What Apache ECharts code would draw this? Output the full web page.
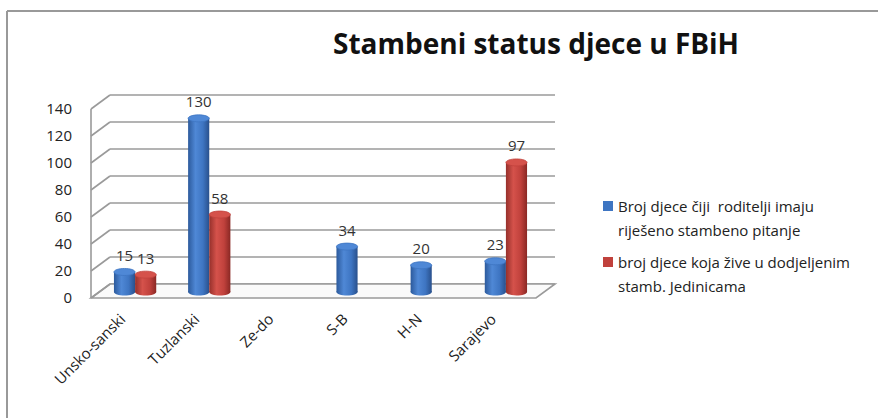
<!DOCTYPE html>
<html>
<head>
<meta charset="utf-8">
<script src="https://cdn.jsdelivr.net/npm/echarts@6/dist/echarts.min.js"></script>
<style>
html,body{margin:0;padding:0;background:#fff;}
#c{width:878px;height:418px;}
</style>
</head>
<body>
<div id="c"></div>
<script>
// ---- data ----
const titleText = 'Stambeni status djece u FBiH';
const categories = ['Unsko-sanski', 'Tuzlanski', 'Ze-do', 'S-B', 'H-N', 'Sarajevo'];
const seriesNames = ['Broj djece čiji  roditelji imaju\nriješeno stambeno pitanje',
                     'broj djece koja žive u dodjeljenim\nstamb. Jedinicama'];
const blueValues = [15, 130, null, 34, 20, 23];
const redValues = [13, 58, null, null, null, 97];
const yMin = 0, yMax = 140, yInterval = 20;
const yTicks = [0, 20, 40, 60, 80, 100, 120, 140];

// ---- styles ----
const FONT = '"Open Sans", Lato, sans-serif';
const DX = 19, DY = 14;
const blueGrad = ['#2c5a9c', '#4f88d6', '#3e75c2', '#29508c'];
const redGrad = ['#96302b', '#d5524b', '#c0413c', '#8a2824'];

function grad(c) {
  return new echarts.graphic.LinearGradient(0, 0, 1, 0, [
    {offset: 0, color: c[0]}, {offset: 0.35, color: c[1]},
    {offset: 0.7, color: c[2]}, {offset: 1, color: c[3]}
  ]);
}

function cylinder(sign, c) {
  return function (params, api) {
    const v = api.value(1);
    if (v == null || isNaN(v)) return;
    const base = api.coord([api.value(0), 0]);
    const top = api.coord([api.value(0), v]);
    const band = api.size([1, 0])[0];
    const w = band * 0.285;
    const cx = base[0] + sign * w / 2;
    const ry = 3.5;
    return {
      type: 'group',
      children: [
        {type: 'ellipse', shape: {cx: cx, cy: base[1], rx: w / 2, ry: ry}, style: {fill: grad(c)}},
        {type: 'rect', shape: {x: cx - w / 2, y: top[1], width: w, height: base[1] - top[1]}, style: {fill: grad(c)}},
        {type: 'ellipse', shape: {cx: cx, cy: top[1], rx: w / 2, ry: ry}, style: {fill: c[1], stroke: c[2], lineWidth: 0.8}},
        {type: 'text', style: {text: String(v), x: cx, y: top[1] - 17, align: 'center', verticalAlign: 'middle',
          fill: '#333', fontSize: 15, fontFamily: FONT}}
      ]
    };
  };
}

const wallData = yTicks.map(function (t) { return [0, t]; });

const option = {
  backgroundColor: '#fff',
  animation: false,
  title: {
    text: titleText, left: 531, top: 24, textAlign: 'center',
    textStyle: {fontFamily: FONT, fontSize: 28, fontWeight: 'bold', color: '#111'}
  },
  legend: {
    orient: 'vertical', left: 598, top: 189, itemGap: 8,
    itemWidth: 10, itemHeight: 48,
    icon: 'path://M0,7h10v10h-10zM0,0M0,48',
    textStyle: {fontFamily: FONT, fontSize: 15, color: '#222', lineHeight: 24},
    data: seriesNames
  },
  graphic: [
    {type: 'line', shape: {x1: 7, y1: 11, x2: 878, y2: 11}, style: {stroke: '#999', lineWidth: 2}},
    {type: 'line', shape: {x1: 7, y1: 11, x2: 7, y2: 418}, style: {stroke: '#999', lineWidth: 2}}
  ],
  grid: [
    {left: 110, right: 323, top: 95, bottom: 134},
    {left: 98, right: 335, top: 105, bottom: 126},
    {left: 85, right: 348, top: 105, bottom: 126}
  ],
  xAxis: [
    {gridIndex: 0, type: 'value', min: 0, max: 1, show: false},
    {gridIndex: 1, type: 'category', data: categories, show: false},
    {gridIndex: 2, type: 'category', data: categories,
      axisLine: {show: false}, axisTick: {show: false},
      axisLabel: {rotate: 45, margin: 24, fontFamily: FONT, fontSize: 15, color: '#222', interval: 0}}
  ],
  yAxis: [
    {gridIndex: 0, type: 'value', min: yMin, max: yMax, interval: yInterval,
      axisLine: {show: false}, axisTick: {show: false},
      splitLine: {show: true, lineStyle: {color: '#9a9a9a', width: 1.6}},
      axisLabel: {margin: 38, verticalAlign: 'top', lineHeight: 25, showMinLabel: true, showMaxLabel: true,
        hideOverlap: false, fontFamily: FONT, fontSize: 15, color: '#222'}},
    {gridIndex: 1, type: 'value', min: yMin, max: yMax, interval: yInterval, show: false, splitLine: {show: false}},
    {gridIndex: 2, type: 'value', min: yMin, max: yMax, interval: yInterval, show: false, splitLine: {show: false}}
  ],
  series: [
    {
      name: 'wall', type: 'custom', xAxisIndex: 0, yAxisIndex: 0, silent: true, z: 1,
      data: wallData,
      renderItem: function (params, api) {
        const v = api.value(1);
        const p = api.coord([0, v]);
        const children = [
          {type: 'line', shape: {x1: p[0], y1: p[1], x2: p[0] - DX, y2: p[1] + DY}, style: {stroke: '#9a9a9a', lineWidth: 1.6}}
        ];
        if (v === yMin) {
          const r = api.coord([1, yMin]);
          const t = api.coord([0, yMax]);
          children.unshift({type: 'polygon', shape: {points: [
            [p[0], p[1]], [r[0], r[1]], [r[0] - DX, r[1] + DY], [p[0] - DX, p[1] + DY]
          ]}, style: {fill: '#fafafa', stroke: '#9a9a9a', lineWidth: 1.6}});
          children.push({type: 'line', shape: {x1: p[0] - DX, y1: p[1] + DY, x2: t[0] - DX, y2: t[1] + DY},
            style: {stroke: '#9a9a9a', lineWidth: 1.6}});
        }
        return {type: 'group', children: children};
      }
    },
    {
      name: seriesNames[0], type: 'custom', xAxisIndex: 1, yAxisIndex: 1, z: 3,
      itemStyle: {color: '#3e75c2'},
      data: blueValues.map(function (v, i) { return [i, v]; }),
      renderItem: cylinder(-1, blueGrad)
    },
    {
      name: seriesNames[1], type: 'custom', xAxisIndex: 1, yAxisIndex: 1, z: 4,
      itemStyle: {color: '#c0413c'},
      data: redValues.map(function (v, i) { return [i, v]; }),
      renderItem: cylinder(1, redGrad)
    }
  ]
};

const chart = echarts.init(document.getElementById('c'), null, {renderer: 'svg'});
chart.setOption(option);
</script>
</body>
</html>
